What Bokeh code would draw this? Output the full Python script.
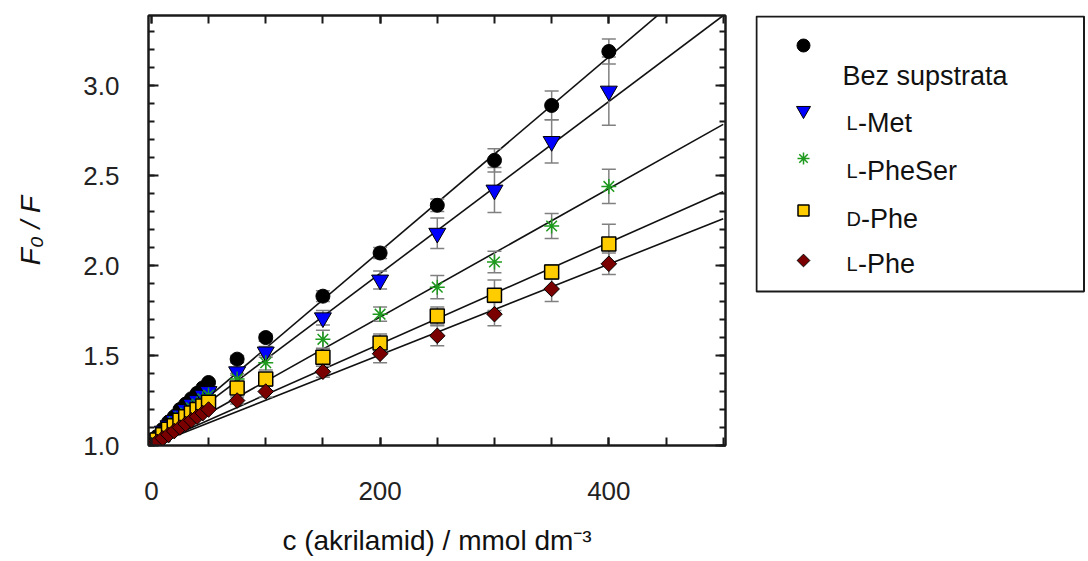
from math import pi
from bokeh.plotting import figure
from bokeh.models import (Range1d, SingleIntervalTicker, LinearAxis, Whisker,
                          ColumnDataSource, TeeHead, CustomJSTickFormatter)
from bokeh.layouts import row
from bokeh.embed import file_html
from bokeh.resources import INLINE
from bokeh.core.properties import value

# ---------------- data ----------------
conc = [0, 5, 10, 15, 20, 25, 30, 35, 40, 45, 50, 75, 100, 150, 200, 250, 300, 350, 400]

bez_y   = [1.00, 1.05, 1.09, 1.13, 1.16, 1.20, 1.23, 1.26, 1.29, 1.32, 1.35, 1.48, 1.60, 1.83, 2.07, 2.335, 2.585, 2.89, 3.19]
bez_err = [0]*11 + [0.02, 0.02, 0.03, 0.03, 0.035, 0.065, 0.08, 0.07]

met_y   = [1.00, 1.04, 1.08, 1.11, 1.14, 1.17, 1.20, 1.23, 1.25, 1.28, 1.30, 1.41, 1.52, 1.71, 1.92, 2.18, 2.42, 2.69, 2.97]
met_err = [0]*11 + [0.02, 0.03, 0.04, 0.05, 0.085, 0.125, 0.12, 0.19]

pheser_y   = [1.00, 1.04, 1.07, 1.10, 1.13, 1.16, 1.18, 1.21, 1.23, 1.26, 1.28, 1.37, 1.46, 1.59, 1.73, 1.88, 2.02, 2.22, 2.44]
pheser_err = [0]*11 + [0.03, 0.04, 0.05, 0.04, 0.065, 0.06, 0.07, 0.095]

dphe_y   = [1.00, 1.03, 1.06, 1.09, 1.11, 1.14, 1.16, 1.18, 1.20, 1.22, 1.24, 1.32, 1.37, 1.49, 1.57, 1.72, 1.835, 1.965, 2.12]
dphe_err = [0]*11 + [0.02, 0.03, 0.04, 0.05, 0.05, 0.085, 0.04, 0.11]

lphe_y   = [1.00, 1.02, 1.04, 1.06, 1.08, 1.10, 1.12, 1.14, 1.16, 1.18, 1.20, 1.25, 1.30, 1.41, 1.51, 1.61, 1.73, 1.87, 2.01]
lphe_err = [0]*11 + [0.02, 0.03, 0.03, 0.05, 0.055, 0.065, 0.07, 0.06]

# Stern-Volmer constants of the fitted lines (F0/F = 1 + K c)
K_vals = [0.0054, 0.00478, 0.00357, 0.00282, 0.00252]
fit_c = [0, 500]

labels_prefix = ["", "L", "L", "D", "L"]
labels_rest   = ["Bez supstrata", "-Met", "-PheSer", "-Phe", "-Phe"]

x_ticks_interval = 200
y_ticks_interval = 0.5

# ---------------- styles ----------------
series = [
    dict(y=bez_y, err=bez_err, marker="circle", size=14, angle=0, fill="#000000", line="#000000", lw=1),
    dict(y=met_y, err=met_err, marker="inverted_triangle", size=17, angle=0, fill="#0000ff", line="#000000", lw=1),
    dict(y=pheser_y, err=pheser_err, marker="asterisk", size=15, angle=0, fill="#1e9a1e", line="#1e9a1e", lw=1.5),
    dict(y=dphe_y, err=dphe_err, marker="square", size=14, angle=0, fill="#ffcc00", line="#000000", lw=1.5),
    dict(y=lphe_y, err=lphe_err, marker="square", size=11, angle=pi / 4, fill="#7a0000", line="#000000", lw=1),
]

FONT = "Liberation Sans"
AX_COL = "#1a1a1a"
ERR_COL = "#808080"
BORDER_TOP = 15
H = 560
BORDER_BOTTOM = H - 445

p = figure(width=746, height=H, output_backend="svg", toolbar_location=None,
           x_range=Range1d(-2.5, 502), y_range=Range1d(1.0, 3.39),
           min_border_left=148, min_border_right=21, min_border_top=BORDER_TOP,
           min_border_bottom=BORDER_BOTTOM,
           background_fill_color="white", border_fill_color="white")
p.xgrid.visible = False
p.ygrid.visible = False
p.outline_line_color = AX_COL
p.outline_line_width = 2


def style_axis(ax, ticker, major_len, minor_len, labels=True):
    ax.ticker = ticker
    ax.major_tick_in = major_len
    ax.major_tick_out = 0
    ax.minor_tick_in = minor_len
    ax.minor_tick_out = 0
    ax.axis_line_color = AX_COL
    ax.axis_line_width = 2
    ax.major_tick_line_color = AX_COL
    ax.major_tick_line_width = 2
    ax.minor_tick_line_color = AX_COL
    ax.minor_tick_line_width = 2
    if labels:
        ax.major_label_text_font = FONT
        ax.major_label_text_font_size = "26px"
        ax.major_label_text_color = "#222222"
    else:
        ax.formatter = CustomJSTickFormatter(code="return ''")
        ax.major_label_text_font_size = "0px"
        ax.major_label_standoff = 0


xticker = SingleIntervalTicker(interval=x_ticks_interval, num_minor_ticks=4)
yticker = SingleIntervalTicker(interval=y_ticks_interval, num_minor_ticks=5)

xa = p.xaxis[0]
style_axis(xa, xticker, 8, 8)
xa.major_label_standoff = 36
xa.axis_label = "c (akrilamid) / mmol dm\u207b\u00b3"
xa.axis_label_text_font = FONT
xa.axis_label_text_font_size = "28px"
xa.axis_label_text_font_style = "normal"
xa.axis_label_text_color = "#111111"
xa.axis_label_standoff = 22

ya = p.yaxis[0]
style_axis(ya, yticker, 10, 6)
ya.major_label_standoff = 29
ya.formatter = CustomJSTickFormatter(code="return tick.toFixed(1)")
ya.axis_label = "F\u2080 / F"
ya.axis_label_text_font = FONT
ya.axis_label_text_font_size = "28px"
ya.axis_label_text_font_style = "italic"
ya.axis_label_text_color = "#111111"
ya.axis_label_standoff = 34

top_ax = LinearAxis()
style_axis(top_ax, SingleIntervalTicker(interval=x_ticks_interval, num_minor_ticks=4), 8, 8, labels=False)
p.add_layout(top_ax, "above")
right_ax = LinearAxis()
style_axis(right_ax, SingleIntervalTicker(interval=y_ticks_interval, num_minor_ticks=5), 10, 6, labels=False)
p.add_layout(right_ax, "right")

# fitted lines
for K in K_vals:
    p.line(fit_c, [1 + K * c for c in fit_c], line_color="#111111", line_width=1.6, level="underlay")

# error bars (beneath the markers)
for s in series:
    idx = [i for i, e in enumerate(s["err"]) if e > 0]
    src = ColumnDataSource(dict(
        x=[conc[i] for i in idx],
        upper=[s["y"][i] + s["err"][i] for i in idx],
        lower=[s["y"][i] - s["err"][i] for i in idx],
    ))
    w = Whisker(source=src, base="x", upper="upper", lower="lower",
                line_color=ERR_COL, line_width=1.5, level="underlay",
                upper_head=TeeHead(size=14, line_color=ERR_COL, line_width=1.5),
                lower_head=TeeHead(size=14, line_color=ERR_COL, line_width=1.5))
    p.add_layout(w)

# markers
for s in series:
    p.scatter(conc, s["y"], marker=s["marker"], size=s["size"], angle=s["angle"],
              fill_color=s["fill"], line_color=s["line"], line_width=s["lw"])

# ---------------- legend panel ----------------
# its frame is aligned with the plot frame; data units = page pixels
LEG_W = 340
leg = figure(width=LEG_W, height=H, output_backend="svg", toolbar_location=None,
             x_range=Range1d(755, 746 + LEG_W - 1), y_range=Range1d(445, 15),
             x_axis_type=None, y_axis_type=None,
             min_border_left=9, min_border_right=1, min_border_top=BORDER_TOP,
             min_border_bottom=BORDER_BOTTOM,
             background_fill_color="white", border_fill_color="white")
leg.outline_line_color = None
leg.xgrid.visible = False
leg.ygrid.visible = False

leg.quad(left=[756], right=[746 + LEG_W - 2.5], top=[16], bottom=[291], fill_color="white",
         line_color=AX_COL, line_width=2)

marker_x = 803
marker_ys = [45, 110, 158, 210, 260]
marker_sizes = [13, 14, 12, 11, 9]
text_base = [75, 122, 170, 218, 263]
sc_width = {"L": 11.5, "D": 14.5}

for i, s in enumerate(series):
    leg.scatter([marker_x], [marker_ys[i]], marker=s["marker"], size=marker_sizes[i],
                angle=s["angle"], fill_color=s["fill"], line_color=s["line"], line_width=s["lw"])
    pre = labels_prefix[i]
    if pre:
        leg.text([846], [text_base[i]], text=[pre], text_font=value(FONT), text_font_size="20px",
                 text_baseline="alphabetic", text_align="left", text_color="#111111")
        x_rest = 846 + sc_width[pre]
    else:
        x_rest = 842
    leg.text([x_rest], [text_base[i]], text=[labels_rest[i]], text_font=value(FONT),
             text_font_size="27px", text_baseline="alphabetic", text_align="left",
             text_color="#111111")

layout = row(p, leg, spacing=0)
open("out.html", "w").write(file_html(layout, INLINE))
